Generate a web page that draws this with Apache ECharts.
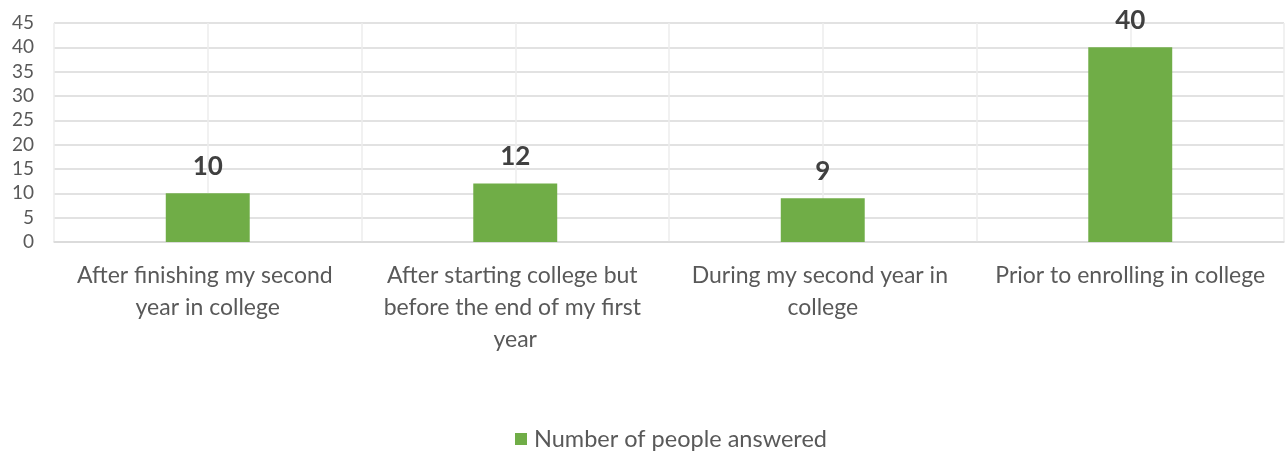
<!DOCTYPE html>
<html><head><meta charset="utf-8">
<script src="https://cdn.jsdelivr.net/npm/echarts@6/dist/echarts.min.js"></script>
<style>html,body{margin:0;padding:0;background:#fff}#c{width:1286px;height:454px}</style>
</head><body><div id="c"></div>
<script>
const categories = [
  "After finishing my second year in college",
  "After starting college but before the end of my first year",
  "During my second year in college",
  "Prior to enrolling in college"
];
const values = [10, 12, 9, 40];
const seriesName = "Number of people answered";
const yTicks = [0, 5, 10, 15, 20, 25, 30, 35, 40, 45];

const font = "Lato, 'Open Sans', sans-serif";
const chart = echarts.init(document.getElementById('c'), null, {renderer: 'canvas'});
chart.setOption({
  animation: false,
  textStyle: {fontFamily: font},
  grid: {left: 54, right: 2, top: 23, bottom: 212, containLabel: false},
  legend: {
    top: 427, left: 515, padding: 0,
    itemWidth: 12, itemHeight: 12, itemGap: 8,
    icon: 'rect',
    textStyle: {fontSize: 23.5, color: '#595959', fontFamily: font, padding: [0, 0, 0, 2]},
    data: [seriesName]
  },
  xAxis: [{
    type: 'category', data: categories,
    axisLine: {show: true, lineStyle: {color: '#d9d9d9', width: 1.5}},
    axisTick: {show: false},
    splitLine: {show: false},
    axisLabel: {
      interval: 0, fontSize: 23, color: '#595959', fontFamily: font,
      width: 284, overflow: 'break', lineHeight: 32, margin: 18
    }
  }, {
    type: 'value', min: 0, max: categories.length * 2, interval: 1,
    position: 'bottom', show: true,
    axisLine: {show: false}, axisTick: {show: false}, axisLabel: {show: false},
    splitLine: {show: true, lineStyle: {color: '#ececec', width: 1.5}}
  }],
  yAxis: {
    type: 'value', min: yTicks[0], max: yTicks[yTicks.length - 1], interval: 5,
    axisLine: {show: false}, axisTick: {show: false},
    axisLabel: {fontSize: 19, color: '#595959', fontFamily: font, margin: 20},
    splitLine: {show: true, lineStyle: {color: '#d9d9d9', width: 1.5}}
  },
  series: [{
    name: seriesName, type: 'bar', xAxisIndex: 0, data: values,
    barWidth: '27.3%',
    itemStyle: {color: '#70ad47'},
    label: {
      show: true, position: 'top', distance: 14,
      fontSize: 26, fontWeight: 'bold', color: '#404040', fontFamily: font
    },
    z: 3
  }]
});
</script></body></html>
